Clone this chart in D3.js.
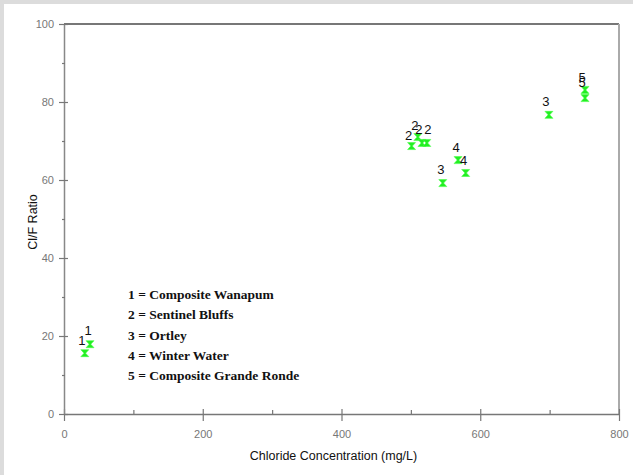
<!DOCTYPE html>
<html>
<head>
<meta charset="utf-8">
<script src="https://cdn.jsdelivr.net/npm/d3@7"></script>
<style>
  body { margin: 0; background: #dcdcdc; }
  svg { display: block; }
</style>
</head>
<body>
<div id="chart"></div>
<script>
// Data
const chloride = [30, 37.5, 501, 510, 516, 523, 546, 699, 568, 579, 751, 751];
const ratio = [15.6, 17.9, 68.7, 71.0, 69.5, 69.5, 59.2, 76.7, 65.1, 61.8, 83.1, 81.0];
const group = [1, 1, 2, 2, 2, 2, 3, 3, 4, 4, 5, 5];
const legendLabels = ["1 = Composite Wanapum", "2 = Sentinel Bluffs", "3 = Ortley",
    "4 = Winter Water", "5 = Composite Grande Ronde"];
const xTicks = [0, 200, 400, 600, 800];
const yTicks = [0, 20, 40, 60, 80, 100];

// label offsets (dx, dy) so the overlapping numbers sit like the original
const labelShift = [[-3, -8], [-2, -9], [-3, -6], [-3, -7], [-3, -9], [1, -9], [-2, -9], [-3, -9], [-2, -8], [-2, -8], [-3, -8], [-3, -11]];

const width = 633;
const height = 475;
const marginTop = 24;
const marginRight = 14;
const marginBottom = 61;
const marginLeft = 64;

const x = d3.scaleLinear()
    .domain([0, 800])
    .range([marginLeft, width - marginRight]);

const y = d3.scaleLinear()
    .domain([0, 100])
    .range([height - marginBottom, marginTop]);

const svg = d3.select("#chart").append("svg")
    .attr("width", width)
    .attr("height", height)
    .attr("viewBox", [0, 0, width, height]);

// white panel, grey strip only on top and left
svg.append("rect")
    .attr("x", 4).attr("y", 4)
    .attr("width", width - 4).attr("height", height - 4)
    .attr("fill", "#fff");

// frame: top and right
svg.append("line")
    .attr("x1", x(0)).attr("x2", x(800))
    .attr("y1", y(100)).attr("y2", y(100))
    .attr("stroke", "#777").attr("stroke-width", 2);
svg.append("line")
    .attr("x1", x(800)).attr("x2", x(800))
    .attr("y1", y(100)).attr("y2", y(0))
    .attr("stroke", "#aaa").attr("stroke-width", 2);

// x axis
const gx = svg.append("g")
    .attr("transform", `translate(0,${y(0)})`)
    .call(d3.axisBottom(x).tickValues(d3.range(0, 801, 100)).tickSize(0).tickFormat(""));
gx.select(".domain").attr("stroke", "#777").attr("stroke-width", 1.5);
gx.selectAll(".tick line").remove();
gx.selectAll(".tick").append("line")
    .attr("y1", d => d % 200 === 0 ? -5 : -4)
    .attr("y2", d => d % 200 === 0 ? 7 : 0)
    .attr("stroke", "#777").attr("stroke-width", 1.2);
gx.selectAll(".tick").filter(d => xTicks.includes(d)).append("text")
    .attr("y", 24)
    .attr("fill", "#777")
    .attr("font-family", "Liberation Sans, Arial, sans-serif")
    .attr("font-size", 11)
    .attr("text-anchor", "middle")
    .text(d => d);

// y axis
const gy = svg.append("g")
    .attr("transform", `translate(${x(0)},0)`)
    .call(d3.axisLeft(y).tickValues(d3.range(0, 101, 10)).tickSize(0).tickFormat(""));
gy.select(".domain").attr("stroke", "#888").attr("stroke-width", 1.5);
gy.selectAll(".tick line").remove();
gy.selectAll(".tick").append("line")
    .attr("x1", d => d % 20 === 0 ? -5 : -2)
    .attr("x2", d => d % 20 === 0 ? 4 : 1)
    .attr("stroke", "#777").attr("stroke-width", 1.2);
gy.selectAll(".tick").filter(d => yTicks.includes(d)).append("text")
    .attr("x", -10)
    .attr("dy", "0.35em")
    .attr("fill", "#777")
    .attr("font-family", "Liberation Sans, Arial, sans-serif")
    .attr("font-size", 11)
    .attr("text-anchor", "end")
    .text(d => d);

// axis titles
svg.append("text")
    .attr("x", (x(0) + x(800)) / 2 - 8)
    .attr("y", 460)
    .attr("text-anchor", "middle")
    .attr("font-family", "Liberation Sans, Arial, sans-serif")
    .attr("font-size", 12.5)
    .attr("fill", "#111")
    .text("Chloride Concentration (mg/L)");

svg.append("text")
    .attr("transform", `translate(37,${(y(0) + y(100)) / 2 + 3}) rotate(-90)`)
    .attr("text-anchor", "middle")
    .attr("font-family", "Liberation Sans, Arial, sans-serif")
    .attr("font-size", 12.5)
    .attr("fill", "#111")
    .text("Cl/F Ratio");

// markers: small green hourglass
const points = chloride.map((c, i) => ({ c, r: ratio[i], g: group[i], s: labelShift[i] }));
svg.append("g")
    .selectAll("path")
    .data(points)
    .join("path")
    .attr("transform", d => `translate(${x(d.c)},${y(d.r)})`)
    .attr("d", "M-4,-3.5H4L0.8,0L4,3.5H-4L-0.8,0Z")
    .attr("fill", "#22ee22")
    .attr("stroke", "#44ff44")
    .attr("stroke-width", 0.6);

svg.append("g")
    .selectAll("text")
    .data(points)
    .join("text")
    .attr("x", d => x(d.c) + d.s[0])
    .attr("y", d => y(d.r) + d.s[1])
    .attr("text-anchor", "middle")
    .attr("font-family", "Liberation Sans, Arial, sans-serif")
    .attr("font-size", 13)
    .attr("fill", "#111")
    .text(d => d.g);

// legend text
svg.append("g")
    .selectAll("text")
    .data(legendLabels)
    .join("text")
    .attr("x", 128)
    .attr("y", (d, i) => 299 + i * 20.3)
    .attr("font-family", "Liberation Serif, Times New Roman, serif")
    .attr("font-weight", "bold")
    .attr("font-size", 13.5)
    .attr("fill", "#111")
    .text(d => d);
</script>
</body>
</html>
